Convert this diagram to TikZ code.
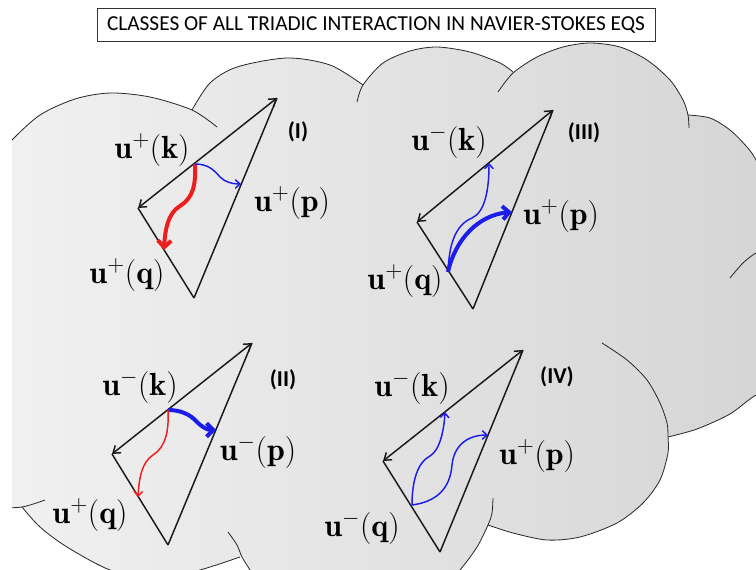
\documentclass[tikz,border=0pt]{standalone}
\usepackage{fix-cm}
\usepackage{amsmath}
\usepackage{fontspec}
\newfontfamily\calibri{Carlito}
\usetikzlibrary{arrows.meta}
\definecolor{cloudL}{RGB}{241,241,241}
\definecolor{cloudR}{RGB}{212,212,212}
\definecolor{flowred}{RGB}{238,30,30}
\definecolor{flowblue}{RGB}{28,28,235}
% cloud lobes, screen pixels (y downwards)
\newcommand{\lobeA}[1]{#1 plot[smooth] coordinates {(-5,160) (12,140) (40,115) (75,99) (110,93) (150,97) (192,110) (217,127)}}
\newcommand{\lobeB}[1]{#1 plot[smooth] coordinates {(192,110) (210,83) (237,67) (287,58) (330,65) (363,85)}}
\newcommand{\lobeC}[1]{#1 plot[smooth] coordinates {(357,102) (363,85) (383,63) (410,51) (437,47) (470,52) (500,63) (513,72)}}
\newcommand{\lobeD}[1]{#1 plot[smooth] coordinates {(498,92) (513,73) (537,57) (563,47) (590,43) (620,47) (647,60) (670,80) (683,100) (688,115) (689,128)}}
\newcommand{\lobeE}[1]{#1 plot[smooth] coordinates {(688,115) (710,118) (730,130) (747,147) (756,160) (770,190)}}
\newcommand{\lobeF}[1]{#1 plot[smooth] coordinates {(730,278) (743,263) (756,253) (775,245)}}
\newcommand{\lobeG}[1]{#1 plot[smooth] coordinates {(800,372) (756,395) (730,414) (697,429) (668,437)}}
\newcommand{\lobeH}[1]{#1 plot[smooth] coordinates {(602,343) (627,360) (647,380) (660,403) (667,423) (668,437) (668,453) (660,480) (643,503) (617,523) (580,537) (547,540) (513,533) (488,525)}}
\newcommand{\lobeI}[1]{#1 plot[smooth] coordinates {(493,498) (492,513) (488,525) (477,547) (460,570) (435,598) (360,612) (290,603) (262,590) (250,570) (242,557) (237,545) (228,532)}}
\newcommand{\lobeJ}[1]{#1 plot[smooth] coordinates {(240,557) (200,570) (155,580) (110,570) (67,547) (40,527) (22,507)}}
\newcommand{\lobeK}[1]{#1 plot[smooth] coordinates {(45,500) (22,507) (-5,508)}}

\begin{document}
\begin{tikzpicture}[x=0.75pt,y=-0.75pt,
  cloudline/.style={line width=0.6pt,black!85},
  edge/.style={line width=1.1pt,black!90},
  vec/.style={edge,{Straight Barb[length=5pt,width=7pt]}-{Straight Barb[length=5pt,width=7pt]}},
  thinflow/.style={line width=1.1pt,-{Straight Barb[length=3.5pt,width=6.5pt]}},
  thickflow/.style={line width=3pt,-{Straight Barb[length=5pt,width=10pt]}},
  lab/.style={inner sep=0pt,font=\fontsize{24}{28}\selectfont},
  tag/.style={inner sep=0pt,font=\calibri\bfseries\fontsize{17}{20}\selectfont},
  titlebox/.style={draw=black!80,fill=white,line width=0.6pt,inner sep=0pt,
    minimum width=418.5pt,minimum height=24.75pt,font=\calibri\fontsize{16}{19}\selectfont}]
\useasboundingbox (0,0) rectangle (756,570);

% the cloud
\begin{scope}
\clip (12,0) rectangle (756,570);
\coordinate (hub) at (400,300);
\shade[left color=cloudL,middle color=cloudL,right color=cloudR]
  (hub) \lobeA{--} -- cycle (hub) \lobeB{--} -- cycle
  (hub) \lobeC{--} -- cycle (hub) \lobeD{--} -- cycle
  (hub) \lobeE{--} -- cycle (hub) -- (800,145) -- (800,372) -- cycle
  (hub) \lobeG{--} -- cycle (hub) \lobeH{--} -- cycle
  (hub) \lobeI{--} -- cycle (hub) \lobeJ{--} -- cycle
  (hub) -- (22,507) -- (-5,508) -- (-5,160) -- cycle;
\draw[cloudline] \lobeA{}; \draw[cloudline] \lobeB{};
\draw[cloudline] \lobeC{}; \draw[cloudline] \lobeD{};
\draw[cloudline] \lobeE{}; \draw[cloudline] \lobeF{};
\draw[cloudline] \lobeG{}; \draw[cloudline] \lobeH{};
\draw[cloudline] \lobeI{}; \draw[cloudline] \lobeJ{};
\draw[cloudline] \lobeK{};
\end{scope}

\node[titlebox] (title) at (376,24.5) {CLASSES OF ALL TRIADIC INTERACTION IN NAVIER-STOKES EQS};

% (I)
\coordinate (IA) at (277,98);
\coordinate (IL) at (138,208);
\coordinate (IB) at (194,298);
\draw[edge] (IB) -- (IL);
\draw[vec] (IL) -- (IA);
\draw[edge] (IB) -- (IA);
\coordinate (Ik) at (195,164);
\coordinate (Ip) at (241,184);
\coordinate (Iq) at (164,250);
\draw[thickflow,flowred] (Ik) .. controls (196,185) and (193,198) .. (180,206) .. controls (168,213) and (165,230) .. (Iq);
\draw[thinflow,flowblue] (Ik) .. controls (208,164) and (214,170) .. (220,177) .. controls (225,182) and (232,184) .. (Ip);
\node[lab] (kI) at (152,150) {$\mathbf{u}^{+}(\mathbf{k})$};
\node[lab] (pI) at (292,203) {$\mathbf{u}^{+}(\mathbf{p})$};
\node[lab] (qI) at (127,275) {$\mathbf{u}^{+}(\mathbf{q})$};
\node[tag] (tagI) at (298,132) {(I)};

% (III)
\coordinate (IIIA) at (553,110);
\coordinate (IIIL) at (417,222);
\coordinate (IIIB) at (473,309);
\draw[edge] (IIIB) -- (IIIL);
\draw[vec] (IIIL) -- (IIIA);
\draw[edge] (IIIB) -- (IIIA);
\coordinate (IIIq) at (448,272);
\coordinate (IIIk) at (489,163);
\coordinate (IIIp) at (512,212);
\draw[thinflow,flowblue] (IIIq) .. controls (449,245) and (455,225) .. (472,218) .. controls (485,212) and (489,190) .. (IIIk);
\draw[thickflow,flowblue] (IIIq) .. controls (455,240) and (478,215) .. (IIIp);
\node[lab] (kIII) at (449,142) {$\mathbf{u}^{-}(\mathbf{k})$};
\node[lab] (pIII) at (561,216) {$\mathbf{u}^{+}(\mathbf{p})$};
\node[lab] (qIII) at (405,281) {$\mathbf{u}^{+}(\mathbf{q})$};
\node[tag] (tagIII) at (584,133) {(III)};

% (II)
\coordinate (IIA) at (252,343);
\coordinate (IIL) at (112,454);
\coordinate (IIB) at (168,545);
\draw[edge] (IIB) -- (IIL);
\draw[vec] (IIL) -- (IIA);
\draw[edge] (IIB) -- (IIA);
\coordinate (IIk) at (168,410);
\coordinate (IIp) at (216,430);
\coordinate (IIq) at (138,497);
\draw[thickflow,flowblue] (IIk) .. controls (180,410) and (190,414) .. (197,422) .. controls (203,428) and (208,430) .. (IIp);
\draw[thinflow,flowred] (IIk) .. controls (169,430) and (166,447) .. (153,455) .. controls (142,462) and (139,478) .. (IIq);
\node[lab] (kII) at (140,387) {$\mathbf{u}^{-}(\mathbf{k})$};
\node[lab] (pII) at (258,452) {$\mathbf{u}^{-}(\mathbf{p})$};
\node[lab] (qII) at (90,515) {$\mathbf{u}^{+}(\mathbf{q})$};
\node[tag] (tagII) at (283,380) {(II)};

% (IV)
\coordinate (IVA) at (523,350);
\coordinate (IVL) at (383,461);
\coordinate (IVB) at (440,552);
\draw[edge] (IVB) -- (IVL);
\draw[vec] (IVL) -- (IVA);
\draw[edge] (IVB) -- (IVA);
\coordinate (IVq) at (412,505);
\coordinate (IVk) at (445,412);
\coordinate (IVp) at (488,435);
\draw[thinflow,flowblue] (IVq) .. controls (412,480) and (418,462) .. (430,456) .. controls (440,450) and (444,430) .. (IVk);
\draw[thinflow,flowblue] (IVq) .. controls (435,502) and (450,490) .. (452,465) .. controls (454,445) and (468,435) .. (IVp);
\node[lab] (kIV) at (412,388) {$\mathbf{u}^{-}(\mathbf{k})$};
\node[lab] (pIV) at (537,456) {$\mathbf{u}^{+}(\mathbf{p})$};
\node[lab] (qIV) at (362,528) {$\mathbf{u}^{-}(\mathbf{q})$};
\node[tag] (tagIV) at (557,377) {(IV)};
\end{tikzpicture}
\end{document}
